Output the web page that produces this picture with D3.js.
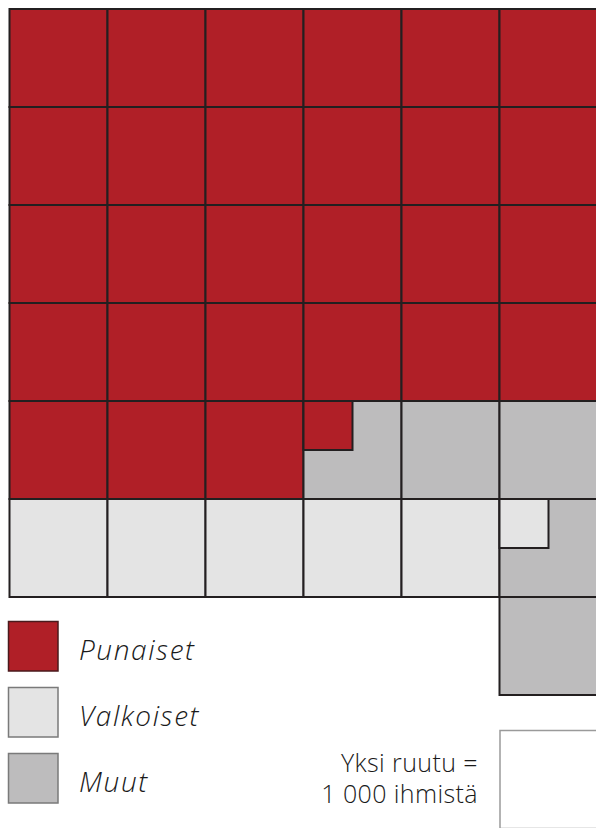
<!DOCTYPE html>
<html><head><meta charset="utf-8">
<script src="https://cdn.jsdelivr.net/npm/d3@7"></script>
<style>html,body{margin:0;padding:0;background:#fff;overflow:hidden}</style>
</head><body>
<script>
// Data (thousands of people; one square = 1 000)
const categories = ["Punaiset", "Valkoiset", "Muut"];
const values = [27.25, 5.25, 4.5];
const colors = ["#B01F27", "#E4E4E4", "#BDBCBD"];
const noteLines = ["Yksi ruutu =", "1 000 ihmistä"];
const columns = 6;
const whiteStartRow = 5;

const W = 596, H = 828, cell = 98;
const total = d3.sum(values);
const nCells = Math.ceil(total);
const nRows = Math.ceil(nCells / columns);
const lastRowCount = nCells - (nRows - 1) * columns;

const svg = d3.select("body").append("svg").attr("width", W).attr("height", H);

const x = d3.scaleBand().domain(d3.range(columns)).range([9.5, 9.5 + columns * cell]);
const y = d3.scaleBand().domain(d3.range(nRows)).range([9, 9 + nRows * cell]);

// Build cells; the incomplete last row is aligned to the right
const cells = d3.range(nCells).map(i => {
  const row = Math.floor(i / columns);
  let col = i % columns;
  if (row === nRows - 1) col += columns - lastRowCount;
  return {i, col, row, base: 2, part: null, frac: 0};
});
function fill(catIdx, start, amount) {
  let i = start, rem = amount;
  while (rem > 0) {
    if (rem >= 1) { cells[i].base = catIdx; rem -= 1; i++; }
    else { cells[i].part = catIdx; cells[i].frac = rem; rem = 0; }
  }
}
fill(0, 0, values[0]);
fill(1, whiteStartRow * columns, values[1]);
// remaining cells stay "Muut" (index 2)

const g = svg.append("g");
g.selectAll("rect.base").data(cells).join("rect")
  .attr("class", "base")
  .attr("x", d => x(d.col)).attr("y", d => y(d.row))
  .attr("width", x.bandwidth()).attr("height", y.bandwidth())
  .attr("fill", d => colors[d.base])
  .attr("stroke", "#231F20").attr("stroke-width", 2);

g.selectAll("rect.part").data(cells.filter(d => d.part !== null)).join("rect")
  .attr("class", "part")
  .attr("x", d => x(d.col)).attr("y", d => y(d.row))
  .attr("width", d => x.bandwidth() * Math.sqrt(d.frac))
  .attr("height", d => y.bandwidth() * Math.sqrt(d.frac))
  .attr("fill", d => colors[d.part])
  .attr("stroke", "#231F20").attr("stroke-width", 2);

// Legend
const ly = d3.scalePoint().domain(categories).range([621.5, 753.5]);
const leg = svg.append("g");
leg.selectAll("rect").data(categories).join("rect")
  .attr("x", 8.5).attr("y", d => ly(d))
  .attr("width", 49.5).attr("height", 49.5)
  .attr("fill", (d, i) => colors[i])
  .attr("stroke", (d, i) => i === 0 ? "#4a1a1c" : "#7a7a7a")
  .attr("stroke-width", 1.5);
leg.selectAll("text").data(categories).join("text")
  .attr("x", 79).attr("y", d => ly(d) + 38.5)
  .attr("font-family", "'Open Sans', sans-serif")
  .attr("font-style", "italic")
  .attr("font-weight", 300)
  .attr("font-size", 28)
  .attr("letter-spacing", 1.6)
  .attr("fill", "#1a1a1a")
  .text(d => d);

// Scale note
svg.append("g").selectAll("text").data(noteLines).join("text")
  .attr("x", 478).attr("y", (d, i) => 772 + i * 31)
  .attr("text-anchor", "end")
  .attr("font-family", "'Open Sans', sans-serif")
  .attr("font-weight", 300)
  .attr("font-size", 25)
  .attr("letter-spacing", 0.4)
  .attr("fill", "#1a1a1a")
  .text(d => d);
svg.append("rect")
  .attr("x", 500).attr("y", 730.5)
  .attr("width", cell).attr("height", cell)
  .attr("fill", "#fff").attr("stroke", "#9a9a9a").attr("stroke-width", 1.5);
</script>
</body></html>
